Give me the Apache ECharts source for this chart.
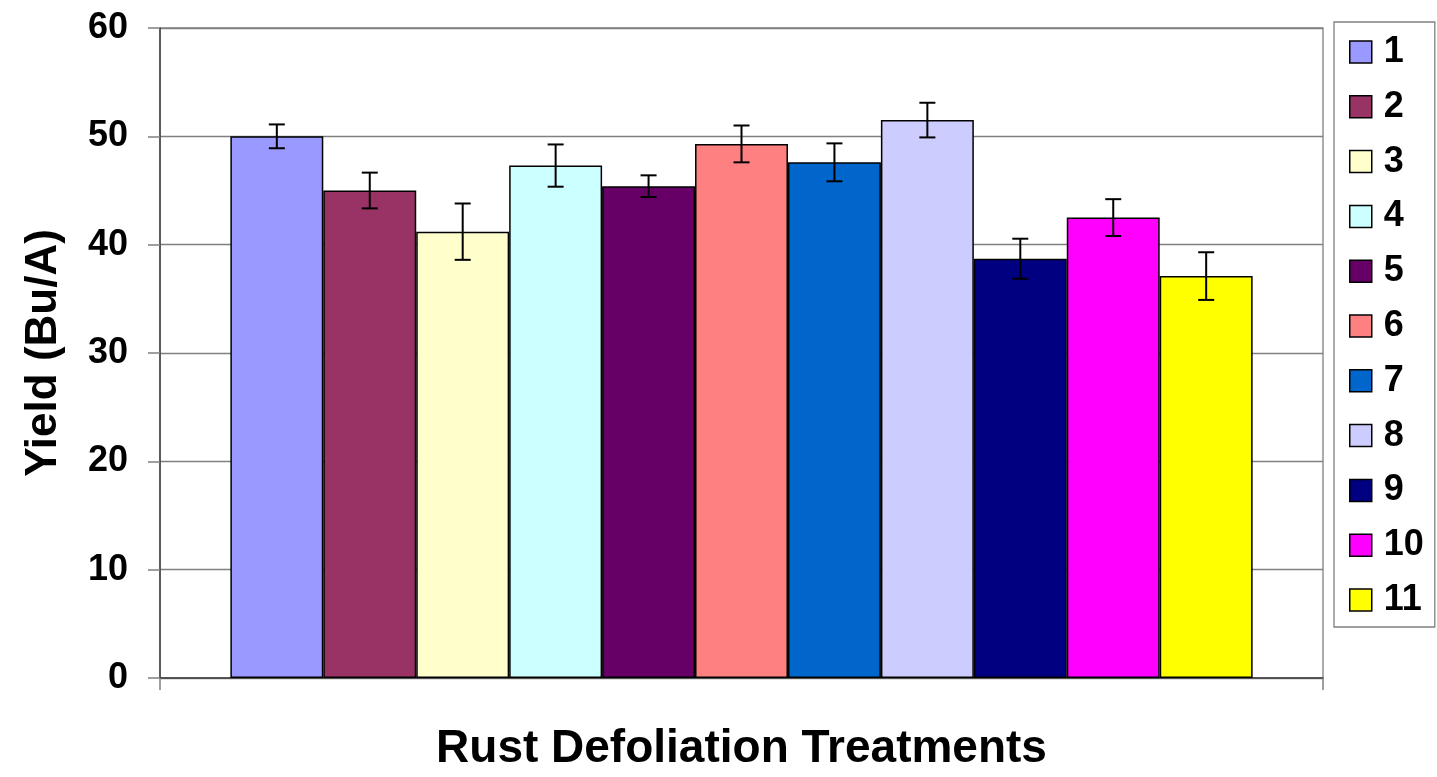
<!DOCTYPE html>
<html>
<head>
<meta charset="utf-8">
<script src="https://cdn.jsdelivr.net/npm/echarts@6/dist/echarts.min.js"></script>
<style>
html,body{margin:0;padding:0;background:#fff;}
#chart{width:1437px;height:777px;}
</style>
</head>
<body>
<div id="chart"></div>
<script>
// ---- data ----
const treatments = ['1','2','3','4','5','6','7','8','9','10','11'];
const yields = [50.0, 45.0, 41.2, 47.3, 45.4, 49.3, 47.6, 51.5, 38.7, 42.5, 37.1];
const errors = [1.1, 1.65, 2.6, 1.95, 1.0, 1.7, 1.75, 1.6, 1.85, 1.7, 2.2];
const yTicks = [0, 10, 20, 30, 40, 50, 60];
const xTitle = 'Rust Defoliation Treatments';
const yTitle = 'Yield (Bu/A)';

// ---- styles ----
const colors = ['#9999FF','#993366','#FFFFCC','#CCFFFF','#660066','#FF8080','#0066CC','#CCCCFF','#000080','#FF00FF','#FFFF00'];
const FONT = '"Liberation Sans", Arial, sans-serif';
const GAP = 0.121;

const chart = echarts.init(document.getElementById('chart'), null, {renderer:'canvas'});

const barSeries = treatments.map((t, i) => ({
  name: t,
  type: 'bar',
  data: [yields[i]],
  barGap: '0%',
  barCategoryGap: (GAP*100) + '%',
  itemStyle: {color: colors[i], borderColor: '#000', borderWidth: 1.5},
  emphasis: {disabled: true},
  animation: false
}));

const errData = treatments.map((t, i) => [0, yields[i] - errors[i], yields[i] + errors[i], i]);

const errSeries = {
  type: 'custom',
  name: 'err',
  z: 5,
  animation: false,
  encode: {x: 0, y: [1, 2]},
  data: errData,
  renderItem: function (params, api) {
    const i = api.value(3);
    const hi = api.coord([0, api.value(2)]);
    const lo = api.coord([0, api.value(1)]);
    const band = api.size([1, 0])[0];
    const used = band * (1 - GAP);
    const bw = used / treatments.length;
    const x = hi[0] - used / 2 + (i + 0.5) * bw;
    const cap = 8;
    const st = {stroke: '#000', lineWidth: 2};
    return {
      type: 'group',
      children: [
        {type: 'line', shape: {x1: x, y1: hi[1], x2: x, y2: lo[1]}, style: st},
        {type: 'line', shape: {x1: x - cap, y1: hi[1], x2: x + cap, y2: hi[1]}, style: st},
        {type: 'line', shape: {x1: x - cap, y1: lo[1], x2: x + cap, y2: lo[1]}, style: st}
      ]
    };
  }
};

chart.setOption({
  backgroundColor: '#fff',
  animation: false,
  textStyle: {fontFamily: FONT},
  grid: {
    left: 160, top: 28, width: 1163, height: 650,
    containLabel: false,
    outerBoundsMode: 'none',
    show: true, borderColor: '#808080', borderWidth: 1.3, backgroundColor: 'transparent'
  },
  legend: {
    orient: 'vertical',
    left: 1334, top: 22,
    padding: [12, 11, 9, 15],
    itemWidth: 22, itemHeight: 22,
    itemGap: 18.8,
    borderColor: '#808080', borderWidth: 1.3,
    icon: 'rect',
    data: treatments,
    selectedMode: false,
    itemStyle: {borderColor: '#000', borderWidth: 1.5},
    textStyle: {fontFamily: FONT, fontSize: 36, fontWeight: 'bold', color: '#000', lineHeight: 36, width: 40, padding: [0,0,0,7]}
  },
  xAxis: {
    type: 'category',
    data: [''],
    name: xTitle,
    nameLocation: 'middle',
    nameGap: 48,
    nameMoveOverlap: false,
    nameTextStyle: {fontFamily: FONT, fontSize: 46, fontWeight: 'bold', color: '#000'},
    axisLine: {lineStyle: {color: '#404040', width: 1.5}},
    axisTick: {show: true, length: 12, lineStyle: {color: '#808080', width: 1.5}},
    axisLabel: {show: false},
    splitLine: {show: false}
  },
  yAxis: {
    type: 'value',
    min: yTicks[0], max: yTicks[yTicks.length-1], interval: 10,
    name: yTitle,
    nameLocation: 'middle',
    nameRotate: 90,
    nameGap: 94,
    nameMoveOverlap: false,
    nameTextStyle: {fontFamily: FONT, fontSize: 44, fontWeight: 'bold', color: '#000'},
    axisLine: {show: true, lineStyle: {color: '#404040', width: 1.5}},
    axisTick: {show: true, length: 12, lineStyle: {color: '#808080', width: 1.5}},
    axisLabel: {margin: 32, fontFamily: FONT, fontSize: 36, fontWeight: 'bold', color: '#000'},
    splitLine: {show: true, lineStyle: {color: '#808080', width: 1.3}}
  },
  series: barSeries.concat([errSeries])
});
</script>
</body>
</html>
